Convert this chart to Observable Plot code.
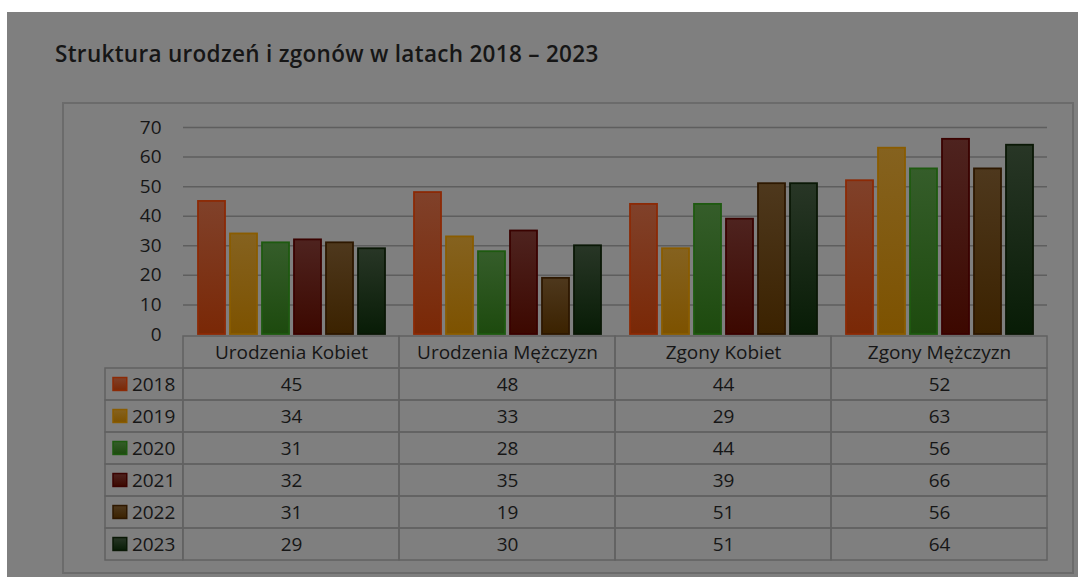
<!DOCTYPE html>
<html><head><meta charset="utf-8">
<script src="https://cdn.jsdelivr.net/npm/d3@7"></script>
<script src="https://cdn.jsdelivr.net/npm/@observablehq/plot@0.6"></script>
<style>
html,body{margin:0;padding:0;background:#fff;}
body{width:1078px;height:577px;position:relative;overflow:hidden;font-family:"Open Sans",sans-serif;}
#bg{position:absolute;left:7px;top:12px;width:1071px;height:565px;background:#7f7f7f;}
#title{position:absolute;left:55px;top:43px;font-size:22.5px;letter-spacing:0.3px;line-height:1;font-weight:600;color:#161616;white-space:nowrap;}
#panel{position:absolute;left:62px;top:102px;width:1008px;height:468px;border:2px solid #6b6b6b;}
#chart{position:absolute;left:62px;top:102px;}
#table{position:absolute;left:62px;top:330px;}
</style></head><body>
<div id="bg"></div>
<div id="title">Struktura urodzeń i zgonów w latach 2018 – 2023</div>
<div id="panel"></div>
<div id="chart"></div>
<div id="table"></div>
<script>
// ---- data ----
const categories = ["Urodzenia Kobiet", "Urodzenia Mężczyzn", "Zgony Kobiet", "Zgony Mężczyzn"];
const years = ["2018", "2019", "2020", "2021", "2022", "2023"];
const v2018 = [45, 48, 44, 52];
const v2019 = [34, 33, 29, 63];
const v2020 = [31, 28, 44, 56];
const v2021 = [32, 35, 39, 66];
const v2022 = [31, 19, 51, 56];
const v2023 = [29, 30, 51, 64];
const yTicks = [0, 10, 20, 30, 40, 50, 60, 70];

// ---- styles ----
const gradTop = ["#80412a", "#85621f", "#355d2a", "#4e231f", "#4e381d", "#283626"];
const gradBot = ["#7a2806", "#7d5200", "#1d4a0e", "#3c0800", "#3b2200", "#081c06"];
const strokeCol = ["#8c2a06", "#8a5c00", "#1e5a10", "#3a0200", "#2e1800", "#0a1806"];
const strokeOf = Object.fromEntries(years.map((y, i) => [y, strokeCol[i]]));
const textColor = "#161616";
const lineColor = "#626262";

const series = [v2018, v2019, v2020, v2021, v2022, v2023];
const rows = years.flatMap((yr, i) => categories.map((c, j) => ({category: c, year: yr, value: series[i][j]})));

const W = 1012, ML = 120, MR = 27;
const baseStyle = {background: "transparent", fontFamily: "Open Sans", fontSize: "19px", color: textColor, overflow: "visible"};

const chart = Plot.plot({
  width: W, height: 244, marginLeft: ML, marginRight: MR, marginTop: 25, marginBottom: 12,
  style: baseStyle,
  facet: {data: rows, x: "category"},
  fx: {domain: categories, padding: 0, axis: null, label: null},
  x: {domain: years, paddingInner: 0.16, paddingOuter: 0.4, axis: null},
  y: {domain: [0, 70], ticks: yTicks, tickSize: 0, tickPadding: 22, label: null},
  color: {type: "identity"},
  marks: [
    Plot.ruleY(yTicks.filter(t => t > 0), {stroke: "#5e5e5e", strokeWidth: 1.5}),
    Plot.barY(rows, {x: "year", y: "value", fill: d => `url(#grad${d.year})`, stroke: d => strokeOf[d.year], strokeWidth: 1.8})
  ]
});
const defs = d3.select(chart).insert("defs", ":first-child");
years.forEach((y, i) => {
  const g = defs.append("linearGradient").attr("id", "grad" + y)
    .attr("x1", 0).attr("y1", 0).attr("x2", 0).attr("y2", 1);
  g.append("stop").attr("offset", "0%").attr("stop-color", gradTop[i]);
  g.append("stop").attr("offset", "100%").attr("stop-color", gradBot[i]);
});
document.getElementById("chart").appendChild(chart);

const bw = (W - ML - MR) / categories.length;
const legendW = 78;
const TH = 234, TMT = 4, TMB = 2;
const rowH = (TH - TMT - TMB) / (years.length + 1);
const swatch = 13.5;
const table = Plot.plot({
  width: W, height: TH, marginLeft: ML, marginRight: MR, marginTop: TMT, marginBottom: TMB,
  style: baseStyle,
  x: {domain: categories, padding: 0, axis: null},
  y: {domain: ["hdr", ...years], padding: 0, axis: null},
  color: {type: "identity"},
  marks: [
    Plot.cell(categories, {x: d => d, y: () => "hdr", fill: "none", stroke: lineColor, strokeWidth: 1.5}),
    Plot.cell(rows, {x: "category", y: "year", fill: "none", stroke: lineColor, strokeWidth: 1.5}),
    Plot.cell(years, {x: () => categories[0], y: d => d, fill: "none", stroke: lineColor, strokeWidth: 1.5,
      dx: -legendW, insetRight: bw - legendW}),
    Plot.cell(years, {x: () => categories[0], y: d => d, fill: d => `url(#grad${d})`, stroke: d => strokeOf[d], strokeWidth: 1.5,
      dx: -legendW + 8, insetRight: bw - 14, insetTop: (rowH - swatch) / 2, insetBottom: (rowH - swatch) / 2}),
    Plot.text(categories, {x: d => d, y: () => "hdr", text: d => d, fill: textColor, fontSize: 19}),
    Plot.text(rows, {x: "category", y: "year", text: d => String(d.value), fill: textColor, fontSize: 19}),
    Plot.text(years, {x: () => categories[0], y: d => d, text: d => d, textAnchor: "start", dx: -bw / 2 - 51.5, fill: textColor, fontSize: 19})
  ]
});
document.getElementById("table").appendChild(table);
</script>
</body></html>
